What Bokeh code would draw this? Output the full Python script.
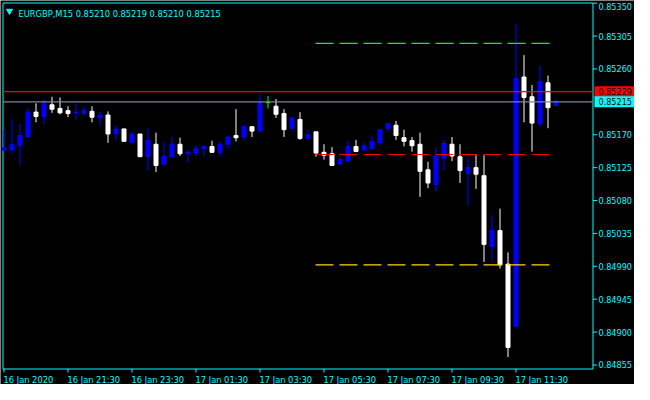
from bokeh.plotting import figure
from bokeh.models import Range1d
from bokeh.core.properties import value
from bokeh.embed import file_html
from bokeh.resources import INLINE

# ---------------- data ----------------
symbol_title = "EURGBP,M15"
last_ohlc = ["0.85210", "0.85219", "0.85210", "0.85215"]

opens = [0.85149, 0.85149, 0.85155, 0.85167, 0.85201, 0.85195, 0.85211, 0.85206, 0.85203, 0.85200,
         0.85199, 0.85202, 0.85193, 0.85197, 0.85171, 0.85178, 0.85159, 0.85171, 0.85140, 0.85157,
         0.85129, 0.85140, 0.85157, 0.85144, 0.85145, 0.85151, 0.85154, 0.85146, 0.85157, 0.85169,
         0.85167, 0.85181, 0.85175, 0.85214, 0.85209, 0.85199, 0.85179, 0.85191, 0.85165, 0.85174,
         0.85146, 0.85144, 0.85130, 0.85134, 0.85154, 0.85149, 0.85151, 0.85159, 0.85179, 0.85183,
         0.85166, 0.85162, 0.85157, 0.85122, 0.85102, 0.85138, 0.85157, 0.85140, 0.85117, 0.85125,
         0.85114, 0.85017, 0.85039, 0.84993, 0.84908, 0.85249, 0.85222, 0.85185, 0.85241, 0.85210]
highs = [0.85177, 0.85191, 0.85185, 0.85206, 0.85213, 0.85219, 0.85222, 0.85221, 0.85209, 0.85213,
         0.85209, 0.85209, 0.85201, 0.85202, 0.85183, 0.85178, 0.85174, 0.85171, 0.85179, 0.85173,
         0.85159, 0.85167, 0.85166, 0.85149, 0.85155, 0.85155, 0.85162, 0.85161, 0.85167, 0.85205,
         0.85182, 0.85182, 0.85227, 0.85223, 0.85219, 0.85205, 0.85193, 0.85201, 0.85177, 0.85174,
         0.85157, 0.85153, 0.85145, 0.85162, 0.85163, 0.85159, 0.85169, 0.85177, 0.85186, 0.85189,
         0.85177, 0.85167, 0.85173, 0.85133, 0.85153, 0.85163, 0.85167, 0.85157, 0.85140, 0.85142,
         0.85142, 0.85060, 0.85069, 0.85009, 0.85322, 0.85279, 0.85238, 0.85265, 0.85251, 0.85219]
lows = [0.85147, 0.85145, 0.85128, 0.85167, 0.85187, 0.85184, 0.85200, 0.85198, 0.85194, 0.85190,
        0.85196, 0.85187, 0.85183, 0.85159, 0.85163, 0.85161, 0.85158, 0.85140, 0.85121, 0.85119,
        0.85128, 0.85140, 0.85141, 0.85132, 0.85141, 0.85141, 0.85145, 0.85140, 0.85151, 0.85161,
        0.85161, 0.85167, 0.85173, 0.85206, 0.85193, 0.85167, 0.85178, 0.85163, 0.85163, 0.85140,
        0.85136, 0.85128, 0.85130, 0.85134, 0.85147, 0.85149, 0.85151, 0.85155, 0.85174, 0.85163,
        0.85154, 0.85147, 0.85085, 0.85097, 0.85092, 0.85121, 0.85134, 0.85104, 0.85073, 0.85096,
        0.84996, 0.84997, 0.84987, 0.84866, 0.84908, 0.85187, 0.85147, 0.85182, 0.85179, 0.85210]
closes = [0.85152, 0.85157, 0.85169, 0.85201, 0.85195, 0.85213, 0.85205, 0.85200, 0.85199, 0.85201,
          0.85203, 0.85194, 0.85197, 0.85171, 0.85178, 0.85161, 0.85171, 0.85140, 0.85162, 0.85128,
          0.85141, 0.85157, 0.85144, 0.85146, 0.85151, 0.85154, 0.85146, 0.85157, 0.85167, 0.85166,
          0.85181, 0.85175, 0.85214, 0.85214, 0.85198, 0.85177, 0.85193, 0.85165, 0.85170, 0.85145,
          0.85142, 0.85128, 0.85136, 0.85154, 0.85147, 0.85155, 0.85161, 0.85177, 0.85185, 0.85169,
          0.85161, 0.85155, 0.85120, 0.85104, 0.85141, 0.85158, 0.85141, 0.85121, 0.85125, 0.85116,
          0.85020, 0.85039, 0.84992, 0.84879, 0.85247, 0.85221, 0.85186, 0.85243, 0.85207, 0.85215]

time_label_bars = [0, 8, 16, 24, 32, 40, 48, 56, 64]
time_labels = ["16 Jan 2020", "16 Jan 21:30", "16 Jan 23:30", "17 Jan 01:30", "17 Jan 03:30",
               "17 Jan 05:30", "17 Jan 07:30", "17 Jan 09:30", "17 Jan 11:30"]

price_ticks = [0.85350, 0.85305, 0.85260, 0.85170, 0.85125, 0.85080,
               0.85035, 0.84990, 0.84945, 0.84900, 0.84855]

level_prices = [0.85295, 0.85143, 0.84992]
level_colors = ["#00FF00", "#FF0000", "#FFD700"]
level_start_bar = [38.94, 38.94, 38.94]
level_end_bar = [68.19, 68.19, 68.19]

marker_prices = [0.85229, 0.85215]          # alert line, bid line
marker_line_colors = ["#FF0000", "#778899"]
marker_box_colors = ["#FF0000", "#00FFFF"]

# ---------------- layout (pixels -> data) ----------------
W, H = 634, 384
X0_PX, BAR_PX = 3.5, 8.0              # pixel centre of bar 0, bar spacing
P_REF, Y_REF_PX, PX_PER_UNIT = 0.85350, 2.7, 73090.0
FRAME_L, FRAME_R, FRAME_T, FRAME_B = 2.5, 592.5, 2.5, 368.5


def bx(px):
    return (px - X0_PX) / BAR_PX


def py(pix):
    return P_REF - (pix - Y_REF_PX) / PX_PER_UNIT


FG = "#00FFFF"
FONT = value("DejaVu Sans")
FS = value("8.3px")
FS_AX = value("8.1px")
BULL, BEAR, DOJI = "#0000FF", "#FFFFFF", "#00FF00"

p = figure(width=W, height=H, x_range=Range1d(bx(0), bx(W)), y_range=Range1d(py(H), py(0)),
           output_backend="svg", toolbar_location=None,
           x_axis_location=None, y_axis_location=None,
           background_fill_color="black", border_fill_color="black",
           min_border_left=0, min_border_right=0, min_border_top=0, min_border_bottom=0)
p.outline_line_color = None
p.grid.grid_line_color = None

# chart frame
p.quad(left=bx(FRAME_L), right=bx(FRAME_R), top=py(FRAME_T), bottom=py(FRAME_B),
       fill_color=None, line_color=FG, line_width=1)

# candles
idx = list(range(len(opens)))
colors = [BULL if c > o else (BEAR if c < o else DOJI) for o, c in zip(opens, closes)]
p.segment(x0=idx, y0=lows, x1=idx, y1=highs, line_color=colors, line_width=1)
p.vbar(x=idx, width=0.5, top=[max(o, c) for o, c in zip(opens, closes)],
       bottom=[min(o, c) for o, c in zip(opens, closes)],
       fill_color=colors, line_color=colors, line_width=1)

# indicator levels (dashed)
p.segment(x0=level_start_bar, y0=level_prices, x1=level_end_bar, y1=level_prices,
          line_color=level_colors, line_width=1.2, line_dash="18 6")

# alert / bid lines
n = len(marker_prices)
p.segment(x0=[bx(FRAME_L)] * n, x1=[bx(FRAME_R)] * n, y0=marker_prices, y1=marker_prices,
          line_color=marker_line_colors, line_width=1.2)

# right price scale
nt = len(price_ticks)
p.segment(x0=[bx(FRAME_R)] * nt, x1=[bx(FRAME_R + 4)] * nt,
          y0=price_ticks, y1=price_ticks, line_color=FG, line_width=1)
p.text(x=[bx(598)] * nt, y=price_ticks, text=[f"{t:.5f}" for t in price_ticks],
       y_offset=[3 if t == max(price_ticks) else 0 for t in price_ticks],
       text_color=FG, text_font=FONT, text_font_size=FS_AX,
       text_align="left", text_baseline="middle")

# price boxes on the scale
half = 5.5 / PX_PER_UNIT
p.quad(left=[bx(594)] * n, right=[bx(W)] * n,
       top=[m + half for m in marker_prices], bottom=[m - half for m in marker_prices],
       fill_color=marker_box_colors, line_color=None)
p.text(x=[bx(598)] * n, y=marker_prices, text=[f"{m:.5f}" for m in marker_prices],
       text_color="black", text_font=FONT, text_font_size=FS_AX,
       text_align="left", text_baseline="middle")

# bottom time scale
nb = len(time_label_bars)
p.segment(x0=time_label_bars, x1=time_label_bars, y0=[py(FRAME_B)] * nb, y1=[py(FRAME_B + 3.5)] * nb,
          line_color=FG, line_width=1)
p.text(x=time_label_bars, y=[py(379.5)] * nb, text=time_labels, x_offset=-0.5,
       text_color=FG, text_font=FONT, text_font_size=FS,
       text_align="left", text_baseline="alphabetic")

# title
p.scatter(x=[bx(9)], y=[py(10.5)], marker="inverted_triangle", size=6,
          fill_color=FG, line_color=FG)
p.text(x=[bx(18)], y=[py(13.5)], text=[symbol_title + "  " + " ".join(last_ohlc)],
       text_color=FG, text_font=FONT, text_font_size=FS,
       text_align="left", text_baseline="alphabetic")

open("out.html", "w").write(file_html(p, INLINE))
